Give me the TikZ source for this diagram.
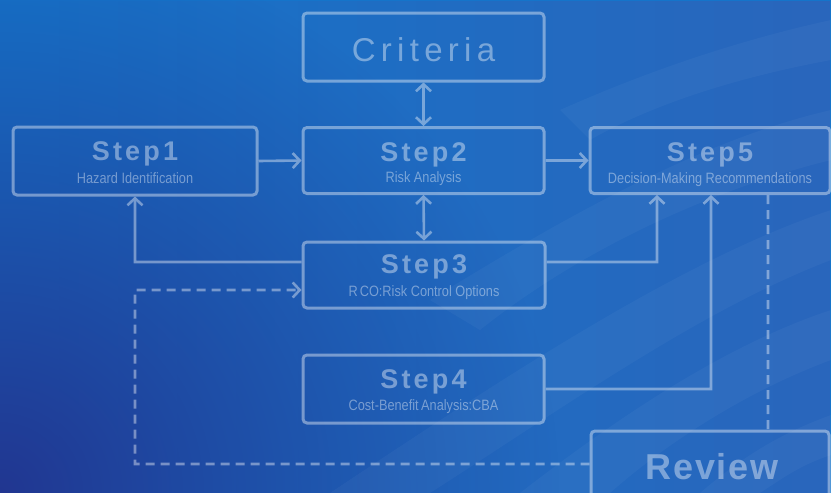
\documentclass[tikz,border=0pt]{standalone}
\usepackage{fontspec}
\setmainfont{Liberation Sans}
\newfontfamily\stepfont[LetterSpace=12]{Liberation Sans}
\newfontfamily\critfont[LetterSpace=16]{Liberation Sans}
\newfontfamily\revfont[LetterSpace=5]{Liberation Sans}
\newfontfamily\subfont[FakeStretch=0.85]{Liberation Sans}
\usetikzlibrary{arrows.meta,fadings}
\definecolor{bgright}{HTML}{1574CA}
\definecolor{bgleft}{HTML}{2A66BC}
\definecolor{bgdark}{HTML}{22338E}
\tikzfading[name=fadebl, inner color=transparent!5, outer color=transparent!100]
\tikzset{
  box/.style={draw=white, line width=3pt, rounded corners=4pt, minimum width=241pt, minimum height=66pt, inner sep=0pt},
  conn/.style={draw=white, line width=2.6pt},
  dconn/.style={conn, dash pattern=on 9pt off 6pt},
  arw/.style={-{Straight Barb[length=7pt,width=15pt]}},
  darw/.style={{Straight Barb[length=7pt,width=15pt]}-{Straight Barb[length=7pt,width=15pt]}},
  steptitle/.style={text=white, anchor=base, inner sep=0pt, font=\stepfont\bfseries\fontsize{27}{30}\selectfont},
  stepsub/.style={text=white, anchor=base, inner sep=0pt, font=\subfont\fontsize{15}{17}\selectfont},
  streak/.style={fill=white, fill opacity=0.035}
}
\begin{document}
\begin{tikzpicture}[x=1pt,y=-1pt]
\useasboundingbox (0,0) rectangle (831,493);
% background
\fill[bgright] (0,0) rectangle (831,493);
\fill[bgleft, path fading=west] (0,0) rectangle (831,493);
\begin{scope}
  \clip (0,0) rectangle (831,493);
  \fill[bgdark, path fading=fadebl] (0,493) circle (560);
  \fill[streak] (330,493) .. controls (500,380) and (680,260) .. (831,210) -- (831,260) .. controls (700,310) and (560,410) .. (430,493) -- cycle;
  \fill[streak] (520,493) .. controls (640,400) and (740,340) .. (831,310) -- (831,360) .. controls (750,390) and (670,440) .. (610,493) -- cycle;
  \fill[streak] (430,300) .. controls (560,220) and (700,140) .. (831,110) -- (831,160) .. controls (710,190) and (580,250) .. (480,330) -- cycle;
  \fill[streak] (560,110) .. controls (650,70) and (740,40) .. (831,20) -- (831,60) .. controls (750,75) and (660,100) .. (590,140) -- cycle;
  \fill[streak] (700,493) .. controls (750,450) and (790,430) .. (831,415) -- (831,455) .. controls (800,465) and (780,480) .. (760,493) -- cycle;
\end{scope}
% foreground
\begin{scope}[transparency group, opacity=0.40]
  \node[box, minimum height=68pt] (crit) at (423.5,47) {};
  \node[box, minimum width=244pt, minimum height=68pt] (s1) at (135,161) {};
  \node[box] (s2) at (423.5,160.5) {};
  \node[box, minimum width=240pt] (s5) at (710,160.5) {};
  \node[box, minimum width=242pt] (s3) at (424,275) {};
  \node[box, minimum height=68pt] (s4) at (423.5,389) {};
  \node[box, minimum width=238pt, minimum height=74pt] (rev) at (710,468) {};

  \node[text=white, anchor=base, inner sep=0pt, font=\critfont\fontsize{33}{36}\selectfont] (critt) at (423.5,61) {Criteria};
  \node[steptitle] (s1t) at (135,160) {Step1};
  \node[stepsub] (s1s) at (135,183) {Hazard Identification};
  \node[steptitle] (s2t) at (423.5,161) {Step2};
  \node[stepsub] (s2s) at (423.5,182) {Risk Analysis};
  \node[steptitle] (s5t) at (710,161) {Step5};
  \node[stepsub] (s5s) at (710,183) {Decision-Making Recommendations};
  \node[steptitle] (s3t) at (424,273) {Step3};
  \node[stepsub] (s3s) at (424,296) {R\kern2pt CO:Risk Control Options};
  \node[stepsub] (s4s) at (423.5,410) {Cost-Benefit\kern2.5pt Analysis:CBA};
  \node[steptitle] (s4t) at (423.5,388) {Step4};
  \node[text=white, anchor=base, inner sep=0pt, font=\revfont\bfseries\fontsize{36}{40}\selectfont] (revt) at (712,479) {Review};

  \draw[conn, arw] (s1.east) -- (s2.west);
  \draw[conn, arw] (s2.east) -- (s5.west);
  \draw[conn, darw] (crit.south) -- (s2.north);
  \draw[conn, darw] (s2.south) -- (s3.north);
  \draw[conn, arw] ([yshift=13pt]s3.west) -| (s1.south);
  \draw[conn, arw] ([yshift=13pt]s3.east) -| ([xshift=-53pt]s5.south);
  \draw[conn, arw] (s4.east) -| ([xshift=1pt]s5.south);
  \draw[dconn] ([xshift=58pt]s5.south) -- ([xshift=58pt]rev.north);
  \coordinate (ul) at (135,290);
  \draw[dconn, arw] ([yshift=4pt]rev.west) -| (ul) -- (ul -| s3.west);
\end{scope}
\end{tikzpicture}
\end{document}
